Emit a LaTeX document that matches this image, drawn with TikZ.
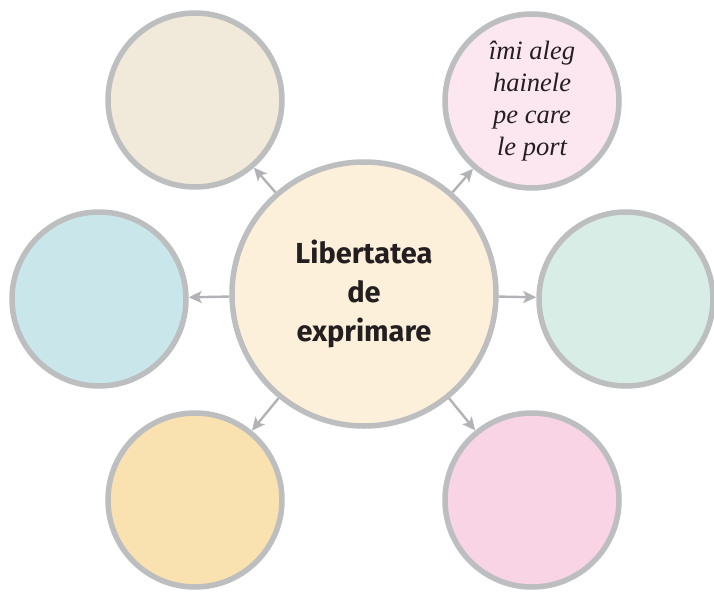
\documentclass[tikz,border=0pt]{standalone}
\usepackage{fontspec}
\setmainfont{Liberation Serif}
\setsansfont{Fira Sans}
\usetikzlibrary{arrows.meta}
\definecolor{rim}{HTML}{BCBEC0}
\definecolor{wire}{HTML}{B1B3B6}
\definecolor{hubfill}{HTML}{FDF0DB}
\definecolor{sand}{HTML}{F1E9DA}
\definecolor{blush}{HTML}{FCE7F1}
\definecolor{ice}{HTML}{C9E7EB}
\definecolor{mint}{HTML}{D8EDE5}
\definecolor{straw}{HTML}{F9E2AF}
\definecolor{rose}{HTML}{F8D4E5}
\definecolor{ink}{HTML}{231F20}
\begin{document}
\begin{tikzpicture}[x=1pt,y=-1pt,
    bubble/.style={circle,draw=rim,line width=5.5pt,minimum size=174pt,inner sep=0pt,
      align=center,text=ink,font=\itshape\fontsize{26.5}{32}\selectfont},
    hub/.style={bubble,minimum size=264pt,font=\sffamily\bfseries\fontsize{29}{39}\selectfont},
    link/.style={draw=wire,line width=2.4pt,-{Stealth[length=13pt,width=12pt,inset=3pt]}}]
  \useasboundingbox (0,0) rectangle (714,591);
  \draw
    (364,294) node[hub,fill=hubfill] (c){Libertatea\\de\\exprimare}
    (195,100) node[bubble,fill=sand] (tl){}
    (532,101) node[bubble,fill=blush] (tr){îmi aleg\\hainele\\pe care\\le port}
    (99,299) node[bubble,fill=ice] (l){}
    (626,299) node[bubble,fill=mint] (r){}
    (195,500) node[bubble,fill=straw] (bl){}
    (532,500) node[bubble,fill=rose] (br){};
  \begin{scope}[link]
    \draw (c) to (tl);
    \draw (c) to (tr);
    \draw (c) to (l);
    \draw (c) to (r);
    \draw (c) to (bl);
    \draw (c) to (br);
  \end{scope}
\end{tikzpicture}
\end{document}
